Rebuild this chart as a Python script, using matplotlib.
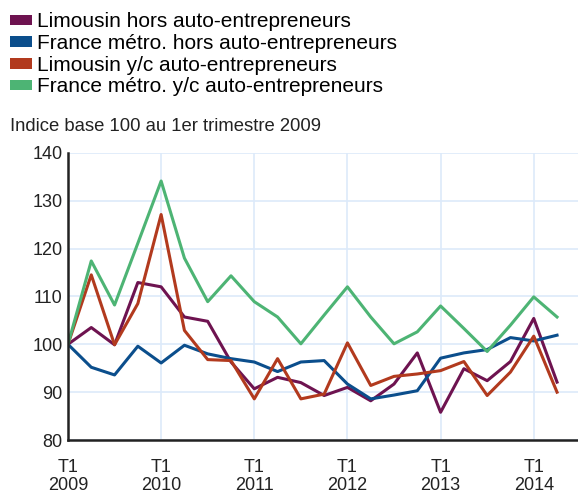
import matplotlib.pyplot as plt
from matplotlib.patches import Patch

plt.rcParams["font.family"] = ["Liberation Sans", "DejaVu Sans"]

# trimestres T1 2009 -> T2 2014
quarters = list(range(22))
tick_pos = [0, 4, 8, 12, 16, 20]
tick_labels = ["T1\n2009", "T1\n2010", "T1\n2011", "T1\n2012", "T1\n2013", "T1\n2014"]

limousin_hors = [100, 103.5, 99.9, 112.9, 112.0, 105.7, 104.8, 96.3, 90.7, 93.1, 92.0,
                 89.3, 91.0, 88.2, 91.7, 98.2, 85.8, 94.9, 92.4, 96.4, 105.4, 92.1]
france_hors = [100, 95.2, 93.6, 99.6, 96.1, 99.8, 98.0, 97.0, 96.3, 94.3, 96.3,
               96.6, 91.7, 88.6, 89.4, 90.3, 97.1, 98.2, 98.9, 101.4, 100.7, 101.9]
limousin_yc = [100, 114.5, 99.9, 108.5, 127.1, 102.9, 96.8, 96.6, 88.6, 97.0, 88.6,
               89.6, 100.3, 91.4, 93.3, 93.8, 94.5, 96.4, 89.3, 94.2, 101.7, 90.0]
france_yc = [100, 117.4, 108.2, 121.1, 134.1, 118.0, 108.9, 114.3, 108.9, 105.7, 100.1,
             106.1, 112.0, 105.7, 100.1, 102.6, 108.0, 103.3, 98.5, 104.0, 109.9, 105.7]

series = [
    ("Limousin hors auto-entrepreneurs", limousin_hors, "#6e1350"),
    ("France métro. hors auto-entrepreneurs", france_hors, "#0b4e8c"),
    ("Limousin y/c auto-entrepreneurs", limousin_yc, "#b23a1e"),
    ("France métro. y/c auto-entrepreneurs", france_yc, "#4db474"),
]

fig = plt.figure(figsize=(5.78, 4.95), dpi=100)
ax = fig.add_axes([0.1176, 0.111, 0.8824, 0.5804])

for name, vals, color in series:
    ax.plot(quarters, vals, color=color, linewidth=2.2)

ax.set_xlim(0, 21.9)
ax.set_ylim(80, 140)
ax.set_yticks(range(80, 141, 10))
ax.set_xticks(tick_pos)
ax.set_xticklabels(tick_labels, linespacing=1.05)
ax.tick_params(axis="both", length=0, labelsize=13, colors="#222222")
ax.tick_params(axis="x", pad=14)
ax.tick_params(axis="y", pad=4)
ax.grid(True, color="#ddeafa", linewidth=1.2)
ax.set_axisbelow(True)

for side in ["top", "right"]:
    ax.spines[side].set_visible(False)
for side in ["left", "bottom"]:
    ax.spines[side].set_color("#222222")
    ax.spines[side].set_linewidth(1.8)

handles = [Patch(facecolor=c, edgecolor="none", label=n) for n, _, c in series]
fig.legend(handles=handles, loc="upper left", bbox_to_anchor=(0.0173, 0.975),
           frameon=False, fontsize=15, handlelength=1.05, handleheight=0.4,
           handletextpad=0.25, labelspacing=0.13, borderaxespad=0, borderpad=0)

fig.text(0.017, 0.744, "Indice base 100 au 1er trimestre 2009", fontsize=13.3,
         color="#222222", va="center")

fig.savefig("out.png", dpi=100)
